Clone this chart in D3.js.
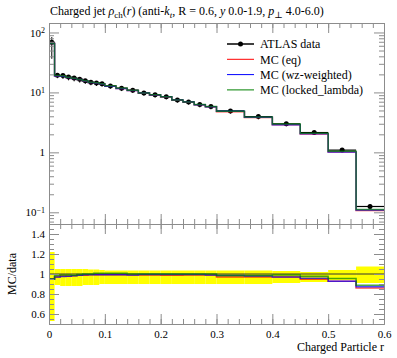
<!DOCTYPE html>
<html>
<head>
<meta charset="utf-8">
<script src="https://cdn.jsdelivr.net/npm/d3@7"></script>
<style>
  body { margin: 0; background: #fff; }
  svg { display: block; }
  text { font-family: "Liberation Serif", "DejaVu Serif", serif; fill: #000; }
</style>
</head>
<body>
<script>
// bin edges in r
var edges = [0, 0.01, 0.02, 0.03, 0.04, 0.05, 0.06, 0.07, 0.08, 0.09, 0.10,
    0.12, 0.14, 0.16, 0.18, 0.20, 0.22, 0.24, 0.26, 0.28, 0.30,
    0.35, 0.40, 0.45, 0.50, 0.55, 0.60];

var dataVals = [68.7, 19.4, 19.1, 18.1, 17.4, 16.6, 15.6, 14.8, 14.4, 13.9,
    12.8, 11.7, 10.9, 9.8, 9.1, 8.5, 7.5, 6.95, 6.26, 5.8,
    4.92, 3.95, 2.99, 2.14, 1.09, 0.125];
// relative errors (up / down)
var errUp = [0.22, 0.05, 0.05, 0.05, 0.05, 0.05, 0.05, 0.045, 0.045, 0.04,
    0.035, 0.035, 0.035, 0.035, 0.035, 0.035, 0.035, 0.035, 0.035, 0.035,
    0.035, 0.035, 0.03, 0.02, 0.04, 0.075];
var errDown = [0.47, 0.11, 0.12, 0.12, 0.12, 0.12, 0.11, 0.11, 0.11, 0.1,
    0.1, 0.1, 0.1, 0.1, 0.1, 0.1, 0.1, 0.1, 0.1, 0.1,
    0.1, 0.1, 0.09, 0.08, 0.06, 0.09];

var mcEq = [65.3, 18.8, 18.7, 17.7, 17.1, 16.4, 15.4, 14.7, 14.3, 13.8,
    12.7, 11.6, 10.8, 9.7, 9.0, 8.4, 7.4, 6.88, 6.2, 5.74,
    4.77, 3.83, 2.90, 2.03, 1.01, 0.1075];
var mcWz = [65.3, 18.8, 18.6, 17.7, 17.1, 16.4, 15.5, 14.7, 14.3, 13.8,
    12.7, 11.6, 10.8, 9.75, 9.05, 8.46, 7.46, 6.92, 6.23, 5.74,
    4.85, 3.87, 2.90, 2.05, 1.01, 0.109];
var mcLocked = [65.3, 19.1, 18.9, 17.9, 17.2, 16.5, 15.6, 14.8, 14.5, 14.0,
    12.9, 11.8, 10.9, 9.8, 9.1, 8.5, 7.5, 6.95, 6.26, 5.8,
    4.85, 3.89, 2.96, 2.09, 1.04, 0.111];

var seriesNames = ["MC (eq)", "MC (wz-weighted)", "MC (locked_lambda)"];
var seriesColors = ["#ff0000", "#0000ff", "#008000"];
var series = [mcEq, mcWz, mcLocked];

var xTicks = [0, 0.1, 0.2, 0.3, 0.4, 0.5, 0.6];
var ratioTicks = [0.6, 0.8, 1, 1.2, 1.4];

var width = 397, height = 358;
var left = 49, right = 384, mainTop = 23, mainBottom = 224, ratioBottom = 324;
var axisColor = "#8c8c8c";

var svg = d3.select("body").append("svg")
    .attr("width", width)
    .attr("height", height);

var x = d3.scaleLinear().domain([0, 0.6]).range([left, right]);
var y = d3.scaleLog().domain([0.0638, 143.9]).range([mainBottom, mainTop]);
var yr = d3.scaleLinear().domain([0.5, 1.5]).range([ratioBottom, mainBottom]);

var defs = svg.append("defs");
defs.append("clipPath").attr("id", "clipMain").append("rect")
    .attr("x", left).attr("y", mainTop).attr("width", right - left).attr("height", mainBottom - mainTop);
defs.append("clipPath").attr("id", "clipRatio").append("rect")
    .attr("x", left).attr("y", mainBottom).attr("width", right - left).attr("height", ratioBottom - mainBottom);

var bins = dataVals.map(function (v, i) {
    return { lo: edges[i], hi: edges[i + 1], mid: (edges[i] + edges[i + 1]) / 2, v: v, up: errUp[i], dn: errDown[i] };
});

function stepPath(vals, ys) {
    var p = "M" + x(edges[0]) + "," + ys(vals[0]);
    vals.forEach(function (v, i) {
        if (i > 0) p += "V" + ys(v);
        p += "H" + x(edges[i + 1]);
    });
    return p;
}

// ---- ratio panel ----
var gr = svg.append("g").attr("clip-path", "url(#clipRatio)");
gr.selectAll("rect.band")
    .data(bins)
    .enter().append("rect")
    .attr("class", "band")
    .attr("x", function (d) { return x(d.lo); })
    .attr("width", function (d) { return x(d.hi) - x(d.lo); })
    .attr("y", function (d) { return yr(1 + d.up); })
    .attr("height", function (d) { return yr(1 - d.dn) - yr(1 + d.up); })
    .style("fill", "#ffff00");

gr.append("line")
    .attr("x1", left).attr("x2", right)
    .attr("y1", yr(1)).attr("y2", yr(1))
    .style("stroke", "#333").style("stroke-width", 1);

series.forEach(function (s, k) {
    var ratio = s.map(function (v, i) { return v / dataVals[i]; });
    gr.append("path")
        .attr("d", stepPath(ratio, yr))
        .style("fill", "none")
        .style("stroke", seriesColors[k])
        .style("stroke-width", 1.5)
        .style("stroke-opacity", 0.7);
});

// ---- main panel ----
var gm = svg.append("g").attr("clip-path", "url(#clipMain)");

gm.selectAll("line.xerr")
    .data(bins)
    .enter().append("line")
    .attr("class", "xerr")
    .attr("x1", function (d) { return x(d.lo); })
    .attr("x2", function (d) { return x(d.hi); })
    .attr("y1", function (d) { return y(d.v); })
    .attr("y2", function (d) { return y(d.v); })
    .style("stroke", "#000").style("stroke-width", 1.2);

gm.selectAll("line.yerr")
    .data(bins)
    .enter().append("line")
    .attr("class", "yerr")
    .attr("x1", function (d) { return x(d.mid); })
    .attr("x2", function (d) { return x(d.mid); })
    .attr("y1", function (d) { return y(d.v * (1 + d.up)); })
    .attr("y2", function (d) { return y(d.v * (1 - d.dn)); })
    .style("stroke", "#000").style("stroke-width", 1);

gm.selectAll("circle.pt")
    .data(bins)
    .enter().append("circle")
    .attr("class", "pt")
    .attr("cx", function (d) { return x(d.mid); })
    .attr("cy", function (d) { return y(d.v); })
    .attr("r", 2.5)
    .style("fill", "#000");

series.forEach(function (s, k) {
    gm.append("path")
        .attr("d", stepPath(s, y))
        .style("fill", "none")
        .style("stroke", seriesColors[k])
        .style("stroke-width", 1.5)
        .style("stroke-opacity", 0.7);
});

// ---- axes ----
var xMinor = d3.range(0, 0.6001, 0.02);
var logMajor = [0.1, 1, 10, 100];
var logMinor = [];
[0.01, 0.1, 1, 10, 100].forEach(function (dec) {
    for (var m = 2; m <= 9; m++) {
        var v = dec * m;
        if (v > 0.0638 && v < 143.9) logMinor.push(v);
    }
});
var ratioMinor = d3.range(0.5, 1.5001, 0.05);

function styleAxis(g) {
    g.selectAll("path.domain").style("stroke", axisColor);
    g.selectAll(".tick line").style("stroke", axisColor);
    g.selectAll(".tick text").style("font-size", "11px")
        .style("font-family", "'Liberation Serif', serif");
}

function addAxis(axis, tx, ty) {
    var g = svg.append("g").attr("transform", "translate(" + tx + "," + ty + ")").call(axis);
    styleAxis(g);
    return g;
}

// main: bottom / top
addAxis(d3.axisBottom(x).tickValues(xMinor).tickSize(-5).tickSizeOuter(0).tickFormat(""), 0, mainBottom);
addAxis(d3.axisBottom(x).tickValues(xTicks).tickSize(-10).tickSizeOuter(0).tickFormat(""), 0, mainBottom);
addAxis(d3.axisTop(x).tickValues(xMinor).tickSize(-5).tickSizeOuter(0).tickFormat(""), 0, mainTop);
addAxis(d3.axisTop(x).tickValues(xTicks).tickSize(-10).tickSizeOuter(0).tickFormat(""), 0, mainTop);

// main: left / right
addAxis(d3.axisLeft(y).tickValues(logMinor).tickSize(-5).tickSizeOuter(0).tickFormat(""), left, 0);
var yAx = addAxis(d3.axisLeft(y).tickValues(logMajor).tickSize(-10).tickSizeOuter(0).tickPadding(4).tickFormat(""), left, 0);
addAxis(d3.axisRight(y).tickValues(logMinor).tickSize(-5).tickSizeOuter(0).tickFormat(""), right, 0);
addAxis(d3.axisRight(y).tickValues(logMajor).tickSize(-10).tickSizeOuter(0).tickFormat(""), right, 0);

var expLabels = { 0.1: "−1", 10: "1", 100: "2" };
yAx.selectAll(".tick text").each(function (d) {
    var t = d3.select(this);
    if (d === 1) {
        t.text("1");
    } else {
        t.append("tspan").text("10");
        t.append("tspan").attr("dy", "-0.45em").style("font-size", "8px").text(expLabels[d]);
    }
});

// ratio: bottom / top
addAxis(d3.axisBottom(x).tickValues(xMinor).tickSize(-5).tickSizeOuter(0).tickFormat(""), 0, ratioBottom);
addAxis(d3.axisBottom(x).tickValues(xTicks).tickSize(-10).tickSizeOuter(0).tickPadding(6)
    .tickFormat(function (d) { return d === 0 ? "0" : d3.format(".1f")(d); }), 0, ratioBottom);
addAxis(d3.axisTop(x).tickValues(xMinor).tickSize(-5).tickSizeOuter(0).tickFormat(""), 0, mainBottom);
addAxis(d3.axisTop(x).tickValues(xTicks).tickSize(-10).tickSizeOuter(0).tickFormat(""), 0, mainBottom);

// ratio: left / right
addAxis(d3.axisLeft(yr).tickValues(ratioMinor).tickSize(-5).tickSizeOuter(0).tickFormat(""), left, 0);
addAxis(d3.axisLeft(yr).tickValues(ratioTicks).tickSize(-10).tickSizeOuter(0).tickPadding(4)
    .tickFormat(function (d) { return d === 1 ? "1" : d3.format(".1f")(d); }), left, 0);
addAxis(d3.axisRight(yr).tickValues(ratioMinor).tickSize(-5).tickSizeOuter(0).tickFormat(""), right, 0);
addAxis(d3.axisRight(yr).tickValues(ratioTicks).tickSize(-10).tickSizeOuter(0).tickFormat(""), right, 0);

// ---- labels ----
var title = svg.append("text").attr("x", 50).attr("y", 15).style("font-size", "12px");
title.append("tspan").text("Charged jet ");
title.append("tspan").style("font-style", "italic").text("ρ");
title.append("tspan").attr("dy", "3").style("font-size", "9px").text("ch");
title.append("tspan").attr("dy", "-3").text("(");
title.append("tspan").style("font-style", "italic").text("r");
title.append("tspan").text(") (anti-");
title.append("tspan").style("font-style", "italic").text("k");
title.append("tspan").attr("dy", "3").style("font-size", "9px").style("font-style", "italic").text("t");
title.append("tspan").attr("dy", "-3").text(", R = 0.6, ");
title.append("tspan").style("font-style", "italic").text("y");
title.append("tspan").text(" 0.0-1.9, ");
title.append("tspan").style("font-style", "italic").text("p");
title.append("tspan").attr("dy", "3").style("font-size", "9px").text("⊥");
title.append("tspan").attr("dy", "-3").text(" 4.0-6.0)");

svg.append("text")
    .attr("x", right).attr("y", 351)
    .attr("text-anchor", "end")
    .style("font-size", "12px")
    .text("Charged Particle r");

svg.append("text")
    .attr("transform", "translate(16," + yr(1) + ") rotate(-90)")
    .attr("text-anchor", "middle")
    .style("font-size", "12px")
    .text("MC/data");

// ---- legend ----
var legX1 = 227, legX2 = 254, legText = 260, legY0 = 44, legDy = 15.3;
var leg = svg.append("g");
leg.append("line")
    .attr("x1", legX1).attr("x2", legX2).attr("y1", legY0).attr("y2", legY0)
    .style("stroke", "#000").style("stroke-width", 1.5);
leg.append("circle").attr("cx", (legX1 + legX2) / 2).attr("cy", legY0).attr("r", 2.5).style("fill", "#000");
leg.append("text").attr("x", legText).attr("y", legY0).attr("dy", "0.35em")
    .style("font-size", "12px").text("ATLAS data");

seriesNames.forEach(function (name, k) {
    var yy = legY0 + legDy * (k + 1);
    leg.append("line")
        .attr("x1", legX1).attr("x2", legX2).attr("y1", yy).attr("y2", yy)
        .style("stroke", seriesColors[k]).style("stroke-width", 1);
    leg.append("text").attr("x", legText).attr("y", yy).attr("dy", "0.35em")
        .style("font-size", "12px").text(name);
});
</script>
</body>
</html>
